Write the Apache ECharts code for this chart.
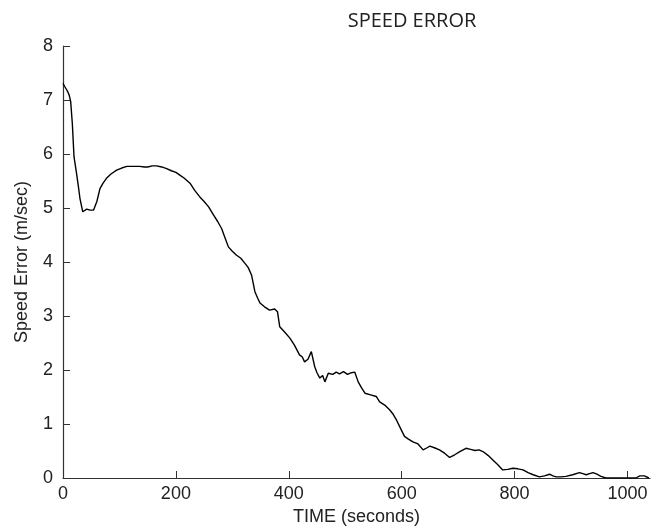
<!DOCTYPE html>
<html lang="en">
<head>
	<meta charset="UTF-8">
	<title>speed error</title>
	<script src="https://cdn.jsdelivr.net/npm/echarts@6/dist/echarts.min.js"></script>
	<style type="text/css">
	body{margin:0;padding:0;background:#fff;}
	#main{width:662px;height:527px;}
	</style>
</head>
<body>
	<div id="main"></div>
	<script>
		// time (s) and speed error (m/sec)
		var timeSec = [0, 3, 6.5, 9, 11, 13.6, 16.5, 19.5, 24, 27, 30, 35, 38, 42, 48, 54, 60, 65.5, 71, 77, 85, 95, 104, 113, 124, 136, 144, 150, 158, 166, 175, 183.5, 192, 200, 207, 215, 225, 233, 242, 250, 258, 266, 274, 281, 287, 293, 300, 307, 315, 322, 328, 334, 340, 345, 349, 357, 366, 375, 380, 384, 393, 402, 410, 419, 424, 428, 434, 440, 446, 450, 455, 460, 464, 470, 478, 484, 490, 497, 504, 511, 517, 523, 529, 535, 545, 555, 561, 570, 579, 585, 591, 598, 605, 612, 620, 629, 638, 645, 650, 658, 667, 676, 685, 694, 703, 714, 722, 730, 737, 744, 753, 762, 770, 779, 788, 797, 806, 815, 824, 833, 844, 853, 862, 868, 874, 882, 891, 903, 915, 921, 927, 933, 939, 946, 953, 962, 975, 990, 1005, 1015, 1022, 1030, 1038];
		var speedErr = [7.31, 7.25, 7.19, 7.14, 7.09, 6.97, 6.57, 5.95, 5.64, 5.42, 5.18, 4.93, 4.95, 4.98, 4.96, 4.96, 5.12, 5.36, 5.46, 5.55, 5.63, 5.70, 5.74, 5.77, 5.77, 5.77, 5.76, 5.76, 5.78, 5.78, 5.76, 5.73, 5.69, 5.66, 5.61, 5.55, 5.46, 5.33, 5.21, 5.12, 5.02, 4.88, 4.75, 4.62, 4.45, 4.28, 4.20, 4.13, 4.07, 3.98, 3.90, 3.76, 3.45, 3.33, 3.24, 3.17, 3.11, 3.13, 3.08, 2.80, 2.70, 2.59, 2.46, 2.28, 2.24, 2.15, 2.20, 2.34, 2.06, 1.95, 1.85, 1.90, 1.78, 1.94, 1.92, 1.96, 1.93, 1.97, 1.92, 1.95, 1.96, 1.78, 1.67, 1.57, 1.54, 1.51, 1.41, 1.35, 1.26, 1.18, 1.07, 0.92, 0.77, 0.72, 0.67, 0.63, 0.52, 0.56, 0.59, 0.56, 0.52, 0.46, 0.38, 0.43, 0.49, 0.55, 0.53, 0.51, 0.52, 0.49, 0.42, 0.33, 0.25, 0.15, 0.16, 0.18, 0.17, 0.15, 0.10, 0.06, 0.02, 0.04, 0.07, 0.04, 0.02, 0.02, 0.03, 0.06, 0.10, 0.08, 0.06, 0.08, 0.10, 0.07, 0.03, 0.00, 0.00, 0.00, 0.00, 0.00, 0.04, 0.04, 0.00];
		var xTicks = [0, 200, 400, 600, 800, 1000];

		var chartData = timeSec.map(function(t, i){
			return [t, speedErr[i]];
		});

		var myChart = echarts.init(document.getElementById('main'));
		var axisFont = {color:'#222', fontSize:18, fontFamily:'Liberation Sans, Arial, sans-serif'};

		var option = {
			animation:false,
			title:{
				text:'SPEED ERROR',
				left:407,
				textAlign:'center',
				top:6,
				textStyle:{color:'#222', fontSize:20, fontWeight:'normal', fontFamily:'Open Sans, sans-serif'}
			},
			grid:{left:63, right:12, top:46, bottom:49, outerBoundsMode:'none'},
			xAxis:{
				type:'value',
				min:0,
				max:1040,
				name:'TIME (seconds)',
				nameLocation:'middle',
				nameGap:27,
				nameTextStyle:axisFont,
				axisLine:{lineStyle:{color:'#333', width:1.2}},
				axisTick:{inside:true, length:7, customValues:xTicks, lineStyle:{color:'#333'}},
				axisLabel:Object.assign({margin:7, customValues:xTicks, formatter:function(v){ return String(v); }}, axisFont),
				splitLine:{show:false}
			},
			yAxis:{
				type:'value',
				min:0,
				max:8,
				interval:1,
				name:'Speed Error (m/sec)',
				nameLocation:'middle',
				nameGap:32,
				nameTextStyle:axisFont,
				axisLine:{show:true, lineStyle:{color:'#333', width:1.2}},
				axisTick:{show:true, inside:true, length:7, lineStyle:{color:'#333'}},
				axisLabel:Object.assign({margin:10}, axisFont),
				splitLine:{show:false}
			},
			series:[{
				name:'speed error',
				type:'line',
				data:chartData,
				showSymbol:false,
				lineStyle:{color:'#000', width:1.4},
				itemStyle:{color:'#000'}
			}]
		};
		myChart.setOption(option);
	</script>
</body>
</html>
